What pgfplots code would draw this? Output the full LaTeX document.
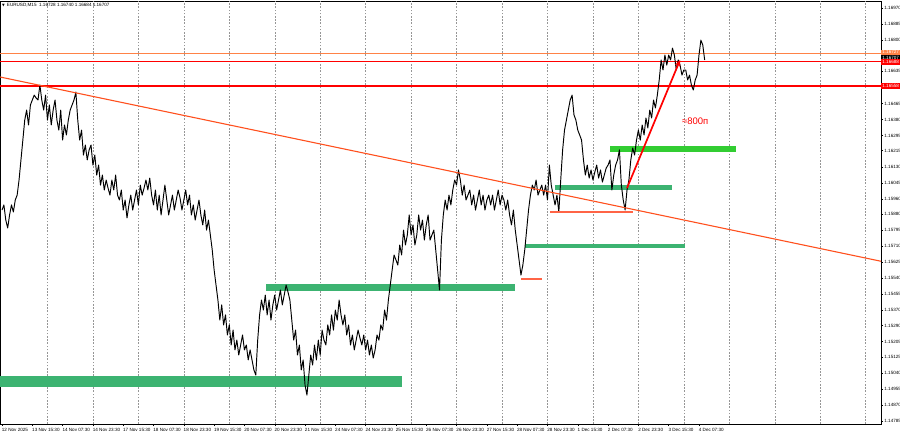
\documentclass[border=0pt]{standalone}
\usepackage{pgfplots}
\pgfplotsset{compat=1.18}
\usepackage{fontspec}
\setmainfont{Liberation Sans}
\newfontfamily\dejavu{DejaVu Sans}
\usetikzlibrary{arrows.meta}
\definecolor{msgreen}{RGB}{60,179,113}
\definecolor{limeg}{RGB}{50,205,50}
\definecolor{trend}{RGB}{255,80,30}
\definecolor{salmonl}{RGB}{255,100,70}
\definecolor{askor}{RGB}{255,130,70}
\definecolor{gridg}{RGB}{150,150,150}
\definecolor{purered}{RGB}{255,0,0}
\newcommand{\tf}{\fontsize{4.6}{5}\selectfont}
\begin{document}
\begin{tikzpicture}
\path[use as bounding box] (0,0) rectangle (900pt,434pt);
\begin{axis}[
 at={(0pt,10pt)}, anchor=south west, scale only axis,
 width=881pt, height=423pt,
 xmin=-1.06, xmax=464.1, ymin=1.14769, ymax=1.17007,
 axis line style={black, line width=0.6pt},
 xtick={0,16,...,368},
 xticklabels={12 Nov 2025, 13 Nov 15:30, 14 Nov 07:30, 14 Nov 23:30, 17 Nov 15:30, 18 Nov 07:30, 18 Nov 23:30, 19 Nov 15:30, 20 Nov 07:30, 20 Nov 23:30, 21 Nov 15:30, 24 Nov 07:30, 24 Nov 23:30, 25 Nov 15:30, 26 Nov 07:30, 26 Nov 23:30, 27 Nov 15:30, 28 Nov 07:30, 28 Nov 23:30, 1 Dec 15:30, 2 Dec 07:30, 2 Dec 23:30, 3 Dec 15:30, 4 Dec 07:30},
 xtick pos=bottom, ytick pos=right, yticklabel pos=right,
 tick align=outside, major tick length=2pt,
 tick style={black, line width=0.4pt},
 xticklabel style={font=\tf, anchor=north west, inner sep=0pt, xshift=-0.3pt, yshift=-1.8pt},
 yticklabel style={font=\tf, anchor=west, inner sep=0pt, xshift=1.2pt},
 ytick={1.14785,1.14870,1.14955,1.15040,1.15125,1.15205,1.15290,1.15370,1.15455,1.15540,1.15625,1.15710,1.15795,1.15880,1.15960,1.16045,1.16130,1.16215,1.16295,1.16380,1.16465,1.16635,1.16800,1.16885,1.16970},
 yticklabels={1.14785,1.14870,1.14955,1.15040,1.15125,1.15205,1.15290,1.15370,1.15455,1.15540,1.15625,1.15710,1.15795,1.15880,1.15960,1.16045,1.16130,1.16215,1.16295,1.16380,1.16465,1.16635,1.16800,1.16885,1.16970},
 extra x ticks={24,48,...,456}, extra x tick labels={},
 extra x tick style={xmajorgrids=true, major tick length=0pt},
 major grid style={gridg, line width=0.45pt, dash pattern=on 1.6pt off 1.6pt},
]
% zones
\addplot[draw=none, fill=msgreen] coordinates {(-1.06,1.15023)(211.2,1.15023)(211.2,1.14965)(-1.06,1.14965)} -- cycle;
\addplot[draw=none, fill=msgreen] coordinates {(139.4,1.15510)(270.9,1.15510)(270.9,1.15473)(139.4,1.15473)} -- cycle;
\addplot[draw=none, fill=msgreen] coordinates {(276.1,1.15721)(360.6,1.15721)(360.6,1.15700)(276.1,1.15700)} -- cycle;
\addplot[draw=none, fill=msgreen] coordinates {(292.0,1.16033)(353.7,1.16033)(353.7,1.16007)(292.0,1.16007)} -- cycle;
\addplot[draw=none, fill=limeg] coordinates {(321.0,1.16240)(387.5,1.16240)(387.5,1.16208)(321.0,1.16208)} -- cycle;
% horizontal levels (drawn under the price)
\addplot[askor, line width=1.0pt] coordinates {(-1.06,1.16730)(464.1,1.16730)};
\addplot[purered, line width=1.4pt] coordinates {(-1.06,1.16686)(464.1,1.16686)};
\addplot[purered, line width=1.4pt] coordinates {(-1.06,1.16558)(464.1,1.16558)};
% price
\addplot[black, line width=0.95pt, line join=round] coordinates {
(0,1.15901)(1,1.15928)(2,1.15848)(3,1.15806)(4,1.15875)(5,1.15928)(6,1.15891)(7,1.15954)(8,1.15980)(9,1.16060)(10,1.16166)(11,1.16271)(12,1.16377)(13,1.16430)(14,1.16351)(15,1.16457)(16,1.16483)(17,1.16509)(18,1.16494)
(19,1.16483)(20,1.16562)(21,1.16483)(22,1.16430)(23,1.16509)(24,1.16377)(25,1.16457)(26,1.16351)(27,1.16430)(28,1.16483)(29,1.16377)(30,1.16324)(31,1.16430)(32,1.16271)(33,1.16351)(34,1.16298)(35,1.16377)(36,1.16430)(37,1.16457)
(38,1.16483)(39,1.16525)(40,1.16377)(41,1.16271)(42,1.16324)(43,1.16192)(44,1.16245)(45,1.16166)(46,1.16219)(47,1.16245)(48,1.16139)(49,1.16192)(50,1.16086)(51,1.16139)(52,1.16033)(53,1.16086)(54,1.16007)(55,1.16060)(56,1.16017)
(57,1.15980)(58,1.16060)(59,1.16007)(60,1.16086)(61,1.15980)(62,1.15954)(63,1.16007)(64,1.15901)(65,1.15954)(66,1.15859)(67,1.15928)(68,1.15980)(69,1.15901)(70,1.15954)(71,1.16007)(72,1.15928)(73,1.16033)(74,1.15980)(75,1.16017)
(76,1.16060)(77,1.16007)(78,1.16070)(79,1.15980)(80,1.15928)(81,1.16007)(82,1.15901)(83,1.15980)(84,1.15875)(85,1.15954)(86,1.16033)(87,1.15954)(88,1.15875)(89,1.15928)(90,1.15980)(91,1.15901)(92,1.15954)(93,1.16007)(94,1.15965)
(95,1.15901)(96,1.15954)(97,1.16007)(98,1.15928)(99,1.15980)(100,1.15875)(101,1.15928)(102,1.15848)(103,1.15901)(104,1.15954)(105,1.15875)(106,1.15822)(107,1.15901)(108,1.15795)(109,1.15848)(110,1.15769)(111,1.15690)(112,1.15584)(113,1.15504)
(114,1.15425)(115,1.15319)(116,1.15399)(117,1.15293)(118,1.15346)(119,1.15240)(120,1.15293)(121,1.15187)(122,1.15266)(123,1.15161)(124,1.15213)(125,1.15134)(126,1.15187)(127,1.15240)(128,1.15161)(129,1.15187)(130,1.15108)(131,1.15161)(132,1.15108)
(133,1.15055)(134,1.15028)(135,1.15213)(136,1.15346)(137,1.15425)(138,1.15372)(139,1.15451)(140,1.15346)(141,1.15425)(142,1.15319)(143,1.15399)(144,1.15451)(145,1.15372)(146,1.15425)(147,1.15478)(148,1.15399)(149,1.15451)(150,1.15504)(151,1.15467)
(152,1.15425)(153,1.15319)(154,1.15213)(155,1.15266)(156,1.15134)(157,1.15187)(158,1.15055)(159,1.15108)(160,1.14975)(161,1.14922)(162,1.15028)(163,1.15134)(164,1.15081)(165,1.15187)(166,1.15108)(167,1.15213)(168,1.15134)(169,1.15266)(170,1.15213)
(171,1.15187)(172,1.15293)(173,1.15240)(174,1.15346)(175,1.15266)(176,1.15372)(177,1.15319)(178,1.15425)(179,1.15346)(180,1.15293)(181,1.15346)(182,1.15240)(183,1.15293)(184,1.15187)(185,1.15240)(186,1.15161)(187,1.15213)(188,1.15266)(189,1.15224)
(190,1.15187)(191,1.15240)(192,1.15161)(193,1.15213)(194,1.15134)(195,1.15187)(196,1.15118)(197,1.15161)(198,1.15240)(199,1.15213)(200,1.15293)(201,1.15266)(202,1.15372)(203,1.15319)(204,1.15425)(205,1.15504)(206,1.15584)(207,1.15663)(208,1.15637)
(209,1.15610)(210,1.15716)(211,1.15663)(212,1.15795)(213,1.15716)(214,1.15769)(215,1.15875)(216,1.15769)(217,1.15822)(218,1.15716)(219,1.15769)(220,1.15875)(221,1.15795)(222,1.15848)(223,1.15742)(224,1.15822)(225,1.15875)(226,1.15742)(227,1.15769)
(228,1.15795)(229,1.15690)(230,1.15584)(231,1.15478)(232,1.15742)(233,1.15875)(234,1.15954)(235,1.15901)(236,1.15980)(237,1.15928)(238,1.16007)(239,1.16060)(240,1.16033)(241,1.16113)(242,1.16060)(243,1.15980)(244,1.16033)(245,1.15954)(246,1.15980)
(247,1.16007)(248,1.15928)(249,1.15980)(250,1.15901)(251,1.15954)(252,1.16007)(253,1.15928)(254,1.15980)(255,1.15901)(256,1.15954)(257,1.15980)(258,1.15928)(259,1.15980)(260,1.15901)(261,1.15954)(262,1.16007)(263,1.15928)(264,1.15980)(265,1.15954)
(266,1.15901)(267,1.15954)(268,1.15875)(269,1.15822)(270,1.15901)(271,1.15795)(272,1.15716)(273,1.15637)(274,1.15557)(275,1.15610)(276,1.15690)(277,1.15795)(278,1.15901)(279,1.15980)(280,1.16033)(281,1.16007)(282,1.16060)(283,1.15980)(284,1.16007)
(285,1.16033)(286,1.15980)(287,1.16033)(288,1.15954)(289,1.16139)(290,1.16033)(291,1.15980)(292,1.15928)(293,1.15980)(294,1.15891)(295,1.16060)(296,1.16219)(297,1.16324)(298,1.16377)(299,1.16430)(300,1.16483)(301,1.16509)(302,1.16404)(303,1.16377)
(304,1.16324)(305,1.16298)(306,1.16271)(307,1.16166)(308,1.16086)(309,1.16139)(310,1.16070)(311,1.16113)(312,1.16060)(313,1.16102)(314,1.16139)(315,1.16070)(316,1.16113)(317,1.16049)(318,1.16086)(319,1.16123)(320,1.16139)(321,1.16166)(322,1.16007)
(323,1.16086)(324,1.16139)(325,1.16166)(326,1.16219)(327,1.16033)(328,1.15954)(329,1.15901)(330,1.16007)(331,1.16060)(332,1.16166)(333,1.16229)(334,1.16192)(335,1.16271)(336,1.16324)(337,1.16271)(338,1.16351)(339,1.16298)(340,1.16388)(341,1.16335)
(342,1.16430)(343,1.16388)(344,1.16483)(345,1.16441)(346,1.16509)(347,1.16589)(348,1.16695)(349,1.16642)(350,1.16721)(351,1.16668)(352,1.16721)(353,1.16695)(354,1.16758)(355,1.16721)(356,1.16642)(357,1.16695)(358,1.16668)(359,1.16615)(360,1.16642)
(361,1.16642)(362,1.16589)(363,1.16615)(364,1.16562)(365,1.16536)(366,1.16589)(367,1.16615)(368,1.16721)(369,1.16800)(370,1.16774)(371,1.16695)
};
% trend line
\addplot[trend, line width=1.1pt] coordinates {(-1.06,1.16605)(464.1,1.15630)};
% short levels
\addplot[salmonl, line width=1.3pt] coordinates {(289.3,1.15891)(333.2,1.15891)};
\addplot[salmonl, line width=1.3pt] coordinates {(274.0,1.15536)(285.1,1.15536)};
% arrow
\addplot[purered, line width=1.7pt, -{Stealth[length=6.5pt,width=5.5pt]}] coordinates {(330.0,1.16017)(358.0,1.16695)};
\node[purered, anchor=west, inner sep=0pt, font=\fontsize{9.5}{10}\selectfont] at (axis cs:359,1.16372) {≈800п};
\node[anchor=north west, inner sep=0pt, font=\tf, xshift=2pt, yshift=-2.5pt] at (rel axis cs:0,1) {{\dejavu\fontsize{3.5}{4}\selectfont ▼}\, EURUSD,M15\ \ 1.16728 1.16740 1.16684 1.16707};
\coordinate (Lor) at (axis cs:464.1,1.16735);
\coordinate (Lbk) at (axis cs:464.1,1.16708);
\coordinate (Lr1) at (axis cs:464.1,1.16684);
\coordinate (Lr2) at (axis cs:464.1,1.16558);
\end{axis}
\node[fill=askor, text=white, font=\tf, anchor=west, inner sep=0.4pt, minimum height=5.6pt, minimum width=19pt] at (Lor) {1.16727};
\node[fill=black, text=white, font=\tf, anchor=west, inner sep=0.4pt, minimum height=5.6pt, minimum width=19pt] at (Lbk) {1.16707};
\node[fill=purered, text=white, font=\tf, anchor=west, inner sep=0.4pt, minimum height=5.6pt, minimum width=19pt] at (Lr1) {1.16688};
\node[fill=purered, text=white, font=\tf, anchor=west, inner sep=0.4pt, minimum height=5.6pt, minimum width=19pt] at (Lr2) {1.16558};
\end{tikzpicture}
\end{document}
